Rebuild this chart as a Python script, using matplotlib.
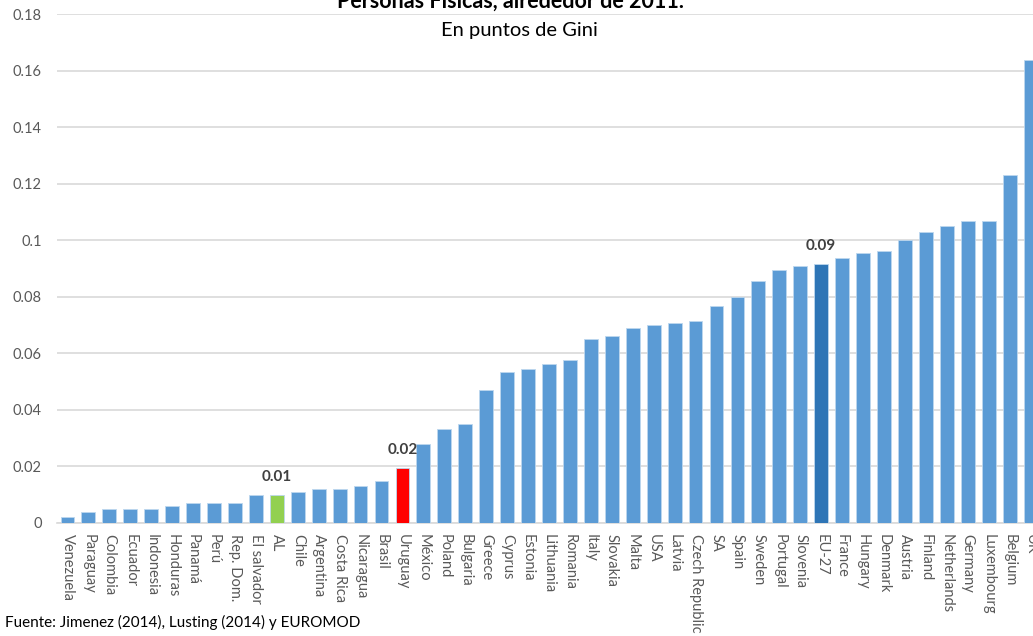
import numpy as np
import matplotlib.pyplot as plt

plt.rcParams["font.family"] = ["Lato", "DejaVu Sans"]

countries = ["Venezuela", "Paraguay", "Colombia", "Ecuador", "Indonesia", "Honduras",
             "Panamá", "Perú", "Rep. Dom.", "El salvador", "AL", "Chile", "Argentina",
             "Costa Rica", "Nicaragua", "Brasil", "Uruguay", "México", "Poland",
             "Bulgaria", "Greece", "Cyprus", "Estonia", "Lithuania", "Romania", "Italy",
             "Slovakia", "Malta", "USA", "Latvia", "Czech Republic", "SA", "Spain",
             "Sweden", "Portugal", "Slovenia", "EU-27", "France", "Hungary", "Denmark",
             "Austria", "Finland", "Netherlands", "Germany", "Luxembourg", "Belgium", "UK"]
values = [0.002, 0.004, 0.005, 0.005, 0.005, 0.006,
          0.007, 0.007, 0.007, 0.010, 0.010, 0.011, 0.012,
          0.012, 0.013, 0.015, 0.0195, 0.028, 0.0333,
          0.0351, 0.047, 0.0535, 0.0546, 0.0564, 0.0578, 0.0652,
          0.066, 0.069, 0.070, 0.0706, 0.0713, 0.0766, 0.0799,
          0.0856, 0.0894, 0.0908, 0.0915, 0.0936, 0.0956, 0.0962,
          0.1001, 0.1028, 0.105, 0.1068, 0.1068, 0.123, 0.1639]
highlight = {"AL": "#92D050", "Uruguay": "#FF0000", "EU-27": "#2E75B6"}
labelled = {"AL": "0.01", "Uruguay": "0.02", "EU-27": "0.09"}
yticks = [0, 0.02, 0.04, 0.06, 0.08, 0.1, 0.12, 0.14, 0.16, 0.18]
yticklabels = ["0", "0.02", "0.04", "0.06", "0.08", "0.1", "0.12", "0.14", "0.16", "0.18"]

fig = plt.figure(figsize=(10.33, 6.36), dpi=100)
fig.patch.set_facecolor("white")
# axes run a little past the right edge, like the cropped original
ax = fig.add_axes([57 / 1033, 1 - 523 / 636, (1041 - 57) / 1033, (523 - 14) / 636])

x = np.arange(len(countries))
colors = [highlight.get(c, "#5B9BD5") for c in countries]
bars = ax.bar(x, values, width=0.66, color=colors, edgecolor="#BDD7EE",
              linewidth=0.6, zorder=3)

for b, c in zip(bars, countries):
    if c in labelled:
        ax.annotate(labelled[c], (b.get_x() + b.get_width() / 2, b.get_height()),
                    xytext=(0, 13), textcoords="offset points", ha="center",
                    va="center", fontsize=11, fontweight="bold", color="#404040")

ax.set_xlim(-0.5, len(countries) - 0.5)
ax.set_ylim(0, 0.18)
ax.set_yticks(yticks)
ax.set_yticklabels(yticklabels)
ax.set_xticks(x)
ax.set_xticklabels(countries, rotation=-90, va="top", ha="center")
ax.tick_params(axis="both", length=0, colors="#595959", labelsize=10.5)
ax.tick_params(axis="y", pad=11)
ax.tick_params(axis="x", pad=8)
ax.grid(axis="y", color="#D9D9D9", linewidth=1.2, zorder=0)
for s in ["top", "right", "left"]:
    ax.spines[s].set_visible(False)
ax.spines["bottom"].set_color("#D9D9D9")
ax.spines["bottom"].set_linewidth(1.2)

fig.text(510 / 1033, 1 - 8 / 636, "Personas Físicas, alrededor de 2011.",
         ha="center", va="baseline", fontsize=15.5, fontweight="bold", color="black")
fig.text(519 / 1033, 1 - 36 / 636, "En puntos de Gini",
         ha="center", va="baseline", fontsize=14.5, color="black")
fig.text(5 / 1033, 1 - 622 / 636, "Fuente: Jimenez (2014), Lusting (2014) y EUROMOD",
         ha="left", va="center", fontsize=11, color="black")

fig.savefig("out.png", dpi=100, facecolor="white")
